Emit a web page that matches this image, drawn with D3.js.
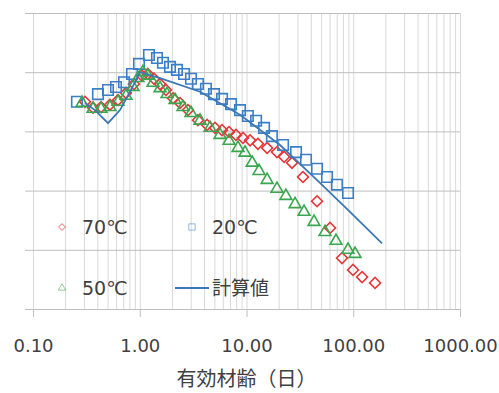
<!DOCTYPE html>
<html>
<head>
<meta charset="utf-8">
<script src="https://cdn.jsdelivr.net/npm/d3@7"></script>
<style>
  body { margin: 0; background: #fff; }
  svg { display: block; font-family: "DejaVu Sans", "Noto Sans CJK JP", sans-serif; }
</style>
</head>
<body>
<div id="chart"></div>
<script>
// axis ticks
const xTicks = [0.1, 1, 10, 100, 1000];
const yTicks = [0, 1, 2, 3, 4, 5];

// 70℃ series
const age70 = [0.307, 0.365, 0.434, 0.526, 0.626, 0.743, 0.883, 1.05, 1.19, 1.36, 1.55, 1.76, 2.05, 2.38, 2.83,
  3.51, 4.27, 5.07, 5.90, 6.86, 7.97, 9.27, 10.8, 12.8, 15.6, 19.3, 22.5, 26.7, 33.8, 45.8, 60.6, 78.5, 99.5, 121, 160];
const val70 = [3.50, 3.40, 3.41, 3.45, 3.53, 3.65, 3.80, 3.94, 3.97, 3.89, 3.80, 3.70, 3.56, 3.48, 3.36,
  3.19, 3.11, 3.06, 3.02, 2.99, 2.94, 2.89, 2.85, 2.79, 2.72, 2.65, 2.57, 2.47, 2.23, 1.82, 1.37, 0.86, 0.66, 0.54, 0.44];

// 20℃ series
const age20 = [0.258, 0.406, 0.504, 0.599, 0.712, 0.846, 0.984, 1.22, 1.45, 1.65, 1.92, 2.23, 2.60, 3.02, 3.51, 4.17,
  4.96, 5.90, 7.16, 8.69, 10.3, 12.3, 14.6, 17.3, 22.0, 29.1, 36.1, 45.8, 56.8, 70.4, 89.3];
const val20 = [3.50, 3.63, 3.70, 3.75, 3.83, 3.97, 4.14, 4.29, 4.24, 4.16, 4.09, 4.04, 3.97, 3.89, 3.80, 3.72,
  3.63, 3.55, 3.46, 3.36, 3.26, 3.18, 3.06, 2.92, 2.77, 2.65, 2.52, 2.37, 2.23, 2.10, 1.96];

// 50℃ series
const age50 = [0.288, 0.365, 0.434, 0.526, 0.626, 0.743, 0.865, 0.963, 1.07, 1.19, 1.33, 1.55, 1.80, 2.14, 2.54, 3.02,
  3.67, 4.55, 5.65, 6.86, 8.33, 9.68, 11.3, 13.1, 15.6, 19.3, 23.4, 28.5, 34.6, 42.9, 54.4, 68.9, 89.3, 104];
const val50 = [3.48, 3.38, 3.38, 3.41, 3.50, 3.60, 3.75, 3.90, 4.00, 3.94, 3.82, 3.73, 3.63, 3.53, 3.41, 3.31,
  3.18, 3.06, 2.94, 2.84, 2.72, 2.64, 2.47, 2.33, 2.18, 2.03, 1.91, 1.77, 1.64, 1.47, 1.30, 1.15, 1.00, 0.93];

// 計算値 (calculated curve)
const ageCalc = [0.307, 0.381, 0.504, 0.653, 0.811, 1.005, 1.55, 3.67, 8.69, 20.6, 48.8, 93.2, 186];
const valCalc = [3.48, 3.36, 3.14, 3.36, 3.67, 4.00, 3.90, 3.67, 3.28, 2.77, 2.13, 1.64, 1.11];

const W = 499, H = 393;
const margin = { top: 13, right: 39, bottom: 84, left: 33 };
const width = W - margin.left - margin.right;
const height = H - margin.top - margin.bottom;

const blue = '#3a7fc6', red = '#e5383b', green = '#3aa650', lineBlue = '#3b78b5';

const svg = d3.select('#chart')
  .append('svg')
  .attr('width', W)
  .attr('height', H);

const g = svg.append('g')
  .attr('transform', 'translate(' + margin.left + ',' + margin.top + ')');

const x = d3.scaleLog().domain([0.1, 1000]).range([0, width]);
const y = d3.scaleLinear().domain([0, 5]).range([height, 0]);

// vertical log grid
g.append('g')
  .attr('class', 'xgrid')
  .attr('transform', 'translate(0,' + height + ')')
  .call(d3.axisBottom(x).tickValues(x.ticks()).tickSize(-height).tickFormat(''))
  .call(s => s.select('.domain').remove())
  .call(s => s.selectAll('line').attr('stroke', '#d9d9d9'));

// horizontal grid
g.append('g')
  .attr('class', 'ygrid')
  .call(d3.axisLeft(y).tickValues(yTicks).tickSize(-width).tickFormat(''))
  .call(s => s.select('.domain').remove())
  .call(s => s.selectAll('line').attr('x1', -8).attr('stroke', '#bfbfbf'));

// x axis
g.append('g')
  .attr('transform', 'translate(0,' + height + ')')
  .call(d3.axisBottom(x).tickValues(xTicks).tickFormat(d3.format('.2f')).tickSize(8).tickPadding(22))
  .call(s => s.select('.domain').attr('stroke', '#bfbfbf'))
  .call(s => s.selectAll('line').attr('stroke', '#bfbfbf'))
  .call(s => s.selectAll('text')
    .attr('fill', '#404040')
    .style('font-family', '"DejaVu Sans", sans-serif')
    .style('font-size', '18px'));

// axis title
svg.append('text')
  .attr('x', margin.left + width / 2)
  .attr('y', 386)
  .attr('text-anchor', 'middle')
  .attr('fill', '#404040')
  .style('font-family', '"Noto Sans CJK JP", sans-serif')
  .style('font-size', '20px')
  .text('有効材齢（日）');

const diamond = d3.symbol(d3.symbolSquare, 60);
const square = d3.symbol(d3.symbolSquare, 110);
const triangle = d3.symbol(d3.symbolTriangle, 60);

function drawPoints(ages, vals, shape, color, rot) {
  g.append('g')
    .selectAll('path')
    .data(ages.map((a, i) => [a, vals[i]]))
    .enter()
    .append('path')
    .attr('d', shape)
    .attr('transform', d => 'translate(' + x(d[0]) + ',' + y(d[1]) + ')' + (rot ? 'rotate(45)' : ''))
    .attr('fill', 'none')
    .attr('stroke', color)
    .attr('stroke-width', 1.6);
}

drawPoints(age70, val70, diamond, red, true);
drawPoints(age20, val20, square, blue, false);
drawPoints(age50, val50, triangle, green, false);

// calculated line
g.append('path')
  .datum(ageCalc.map((a, i) => [a, valCalc[i]]))
  .attr('fill', 'none')
  .attr('stroke', lineBlue)
  .attr('stroke-width', 1.8)
  .attr('d', d3.line().x(d => x(d[0])).y(d => y(d[1])));

// legend
const legend = [
  { label: '70℃', shape: d3.symbol(d3.symbolSquare, 22), color: red, rot: true, lx: 62, ly: 227 },
  { label: '20℃', shape: d3.symbol(d3.symbolSquare, 40), color: blue, rot: false, lx: 192, ly: 227 },
  { label: '50℃', shape: d3.symbol(d3.symbolTriangle, 24), color: green, rot: false, lx: 62, ly: 288 },
  { label: '計算値', shape: null, color: lineBlue, rot: false, lx: 192, ly: 288 }
];

const items = svg.append('g')
  .selectAll('g')
  .data(legend)
  .enter()
  .append('g')
  .attr('transform', d => 'translate(' + d.lx + ',' + d.ly + ')');

items.filter(d => d.shape)
  .append('path')
  .attr('d', d => d.shape())
  .attr('transform', d => d.rot ? 'rotate(45)' : null)
  .attr('fill', 'none')
  .attr('stroke', d => d.color)
  .attr('stroke-opacity', 0.55)
  .attr('stroke-width', 1);

items.filter(d => !d.shape)
  .append('line')
  .attr('x1', -17).attr('x2', 17)
  .attr('stroke', d => d.color)
  .attr('stroke-width', 1.8);

items.append('text')
  .attr('x', 20)
  .attr('dy', '0.35em')
  .attr('fill', '#404040')
  .style('font-size', '19px')
  .text(d => d.label);
</script>
</body>
</html>
